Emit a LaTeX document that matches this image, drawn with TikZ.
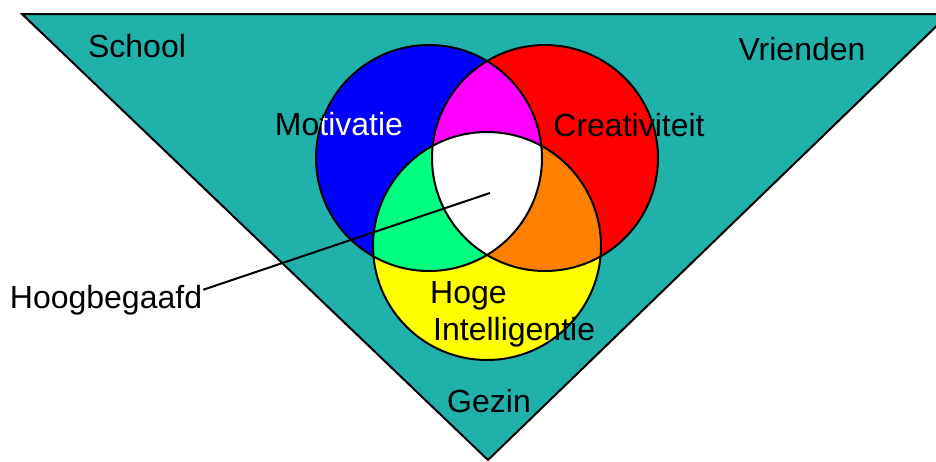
\documentclass[tikz,border=0pt]{standalone}
\usepackage{fontspec}
\setmainfont{Liberation Sans}
\definecolor{zee}{RGB}{32,178,170}
\definecolor{lente}{RGB}{0,255,128}
\definecolor{oranje}{RGB}{255,128,0}
\definecolor{roze}{RGB}{255,0,255}
\definecolor{geel}{RGB}{255,255,0}
\definecolor{rood}{RGB}{255,0,0}
\definecolor{blauw}{RGB}{0,0,255}

\begin{document}
\begin{tikzpicture}[x=1pt, y=-1pt,
    lbl/.style={inner sep=1pt, anchor=base, font=\fontsize{32}{35}\selectfont},
    rand/.style={draw=black, line width=2pt}]

    \useasboundingbox (0,0) rectangle (936,461);
    \clip (0,0) rectangle (936,461);

    % Triangle
    \fill[zee] (22,14) -- (949,14) -- (488,460) -- cycle;

    % Circles
    \def\mot{(429,158) circle (113)}
    \def\cre{(545,158) circle (113)}
    \def\iq{(487,246) circle (114)}
    \fill[blauw] \mot;
    \fill[rood] \cre;
    \fill[geel] \iq;
    \begin{scope}
        \clip \mot;
        \fill[roze] \cre;
        \fill[lente] \iq;
    \end{scope}
    \begin{scope}
        \clip \cre;
        \fill[oranje] \iq;
        \clip \mot;
        \fill[white] \iq;
    \end{scope}
    \draw[rand] \mot;
    \draw[rand] \cre;
    \draw[rand] \iq;
    \draw[rand] (22,14) -- (949,14) -- (488,460) -- cycle;

    % Labels
    \node[lbl] (school) at (137,57) {School};
    \node[lbl] (vrienden) at (802,60) {Vrienden};
    \node[lbl] (motivatie) at (339,135) {Motivatie};
    \begin{scope}
        \clip \mot;
        \node[lbl, white] at (339,135) {Motivatie};
    \end{scope}
    \node[lbl] (creativiteit) at (629,136) {Creativiteit};
    \node[lbl, anchor=base west] (hoge) at (429,303) {Hoge};
    \node[lbl, anchor=base west] (intel) at (432,340) {Intelligentie};
    \node[lbl] (gezin) at (489,412) {Gezin};
    \node[lbl] (hoog) at (106,308) {Hoogbegaafd};

    % Pointer to the core
    \coordinate (kern) at (490,193);
    \draw[line width=2pt] ([yshift=10pt]hoog.east) -- (kern);

\end{tikzpicture}
\end{document}
